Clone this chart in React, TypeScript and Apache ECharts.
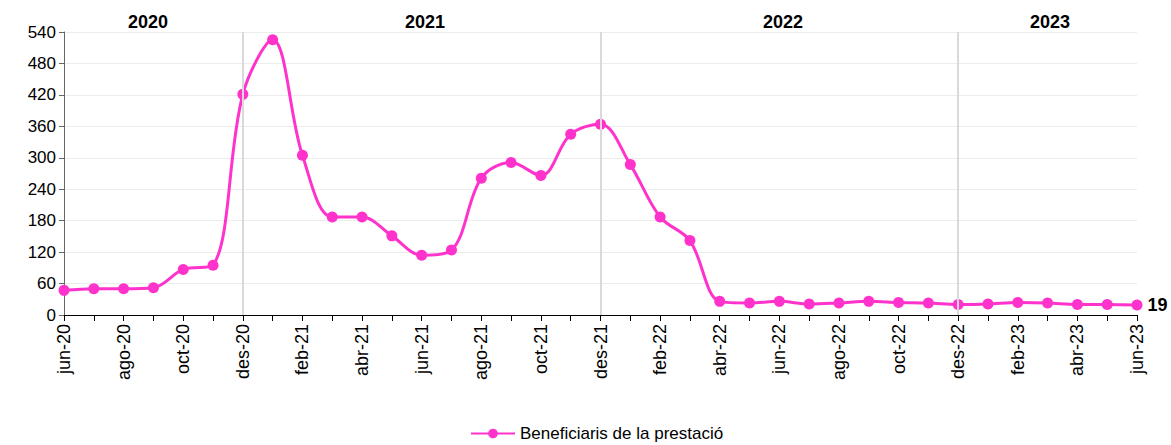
import React, { useEffect, useRef } from "react";
import * as echarts from "echarts";

const months = [
  "jun-20", "jul-20", "ago-20", "set-20", "oct-20", "nov-20", "des-20",
  "gen-21", "feb-21", "mar-21", "abr-21", "mai-21", "jun-21", "jul-21", "ago-21", "set-21", "oct-21", "nov-21", "des-21",
  "gen-22", "feb-22", "mar-22", "abr-22", "mai-22", "jun-22", "jul-22", "ago-22", "set-22", "oct-22", "nov-22", "des-22",
  "gen-23", "feb-23", "mar-23", "abr-23", "mai-23", "jun-23",
];

const beneficiaris = [
  47, 50, 50, 52, 87, 95, 421,
  525, 305, 187, 187, 151, 114, 124, 261, 291, 266, 345, 364,
  287, 187, 142, 26, 23, 26, 21, 23, 26, 24, 23, 20,
  21, 24, 23, 20, 20, 19,
];

const yearDividers = ["des-20", "des-21", "des-22"];
const yearLabels = ["2020", "2021", "2022", "2023"];
const yearLabelX = [148, 425, 783, 1050];

const seriesName = "Beneficiaris de la prestació";
const FONT = "Liberation Sans, Arial, sans-serif";
const PINK = "#ff33cc";

export default function App() {
  const ref = useRef<HTMLDivElement>(null);
  useEffect(() => {
    document.body.style.margin = "0";
    const chart = echarts.init(ref.current!, null, { renderer: "svg" });
    const last = beneficiaris.length - 1;
    chart.setOption({
      animation: false,
      textStyle: { fontFamily: FONT },
      grid: { left: 64, right: 34, top: 32, bottom: 130 },
      legend: {
        bottom: 1,
        left: 468,
        itemWidth: 44,
        itemHeight: 12,
        itemGap: 4,
        padding: 2,
        textStyle: { fontSize: 17, color: "#000", fontFamily: FONT },
        data: [seriesName],
      },
      graphic: yearLabels.map((t, i) => ({
        type: "text",
        x: yearLabelX[i],
        y: 22,
        style: {
          text: t,
          fontSize: 18,
          fontWeight: "bold",
          fill: "#000",
          fontFamily: FONT,
          align: "center",
          verticalAlign: "middle",
        },
      })),
      xAxis: {
        type: "category",
        data: months,
        boundaryGap: false,
        axisLine: { lineStyle: { color: "#000", width: 1 } },
        axisTick: { interval: 0, length: 6, lineStyle: { color: "#000" } },
        axisLabel: {
          interval: 1,
          rotate: 90,
          fontSize: 18,
          color: "#000",
          fontFamily: FONT,
          margin: 9,
        },
        splitLine: { show: false },
      },
      yAxis: {
        type: "value",
        min: 0,
        max: 540,
        interval: 60,
        axisLine: { show: true, lineStyle: { color: "#666", width: 1 } },
        axisTick: { show: true, length: 5, lineStyle: { color: "#666" } },
        axisLabel: { fontSize: 17, color: "#000", fontFamily: FONT, margin: 8 },
        splitLine: { show: true, lineStyle: { color: "#ececec", width: 1 } },
      },
      series: [
        {
          name: seriesName,
          type: "line",
          data: beneficiaris.map((v, i) =>
            i === last
              ? {
                  value: v,
                  label: {
                    show: true,
                    position: "right",
                    fontSize: 18,
                    fontWeight: "bold",
                    color: "#000",
                    fontFamily: FONT,
                    distance: 5,
                  },
                }
              : v
          ),
          smooth: 0.35,
          symbol: "circle",
          symbolSize: 11,
          lineStyle: { color: PINK, width: 3 },
          itemStyle: { color: PINK },
          markLine: {
            silent: true,
            symbol: "none",
            label: { show: false },
            lineStyle: { color: "#d9d9d9", width: 2, type: "solid" },
            data: yearDividers.map((m) => ({ xAxis: m })),
          },
          z: 3,
        },
      ],
    });
    return () => chart.dispose();
  }, []);
  return <div ref={ref} style={{ width: 1171, height: 445 }} />;
}
